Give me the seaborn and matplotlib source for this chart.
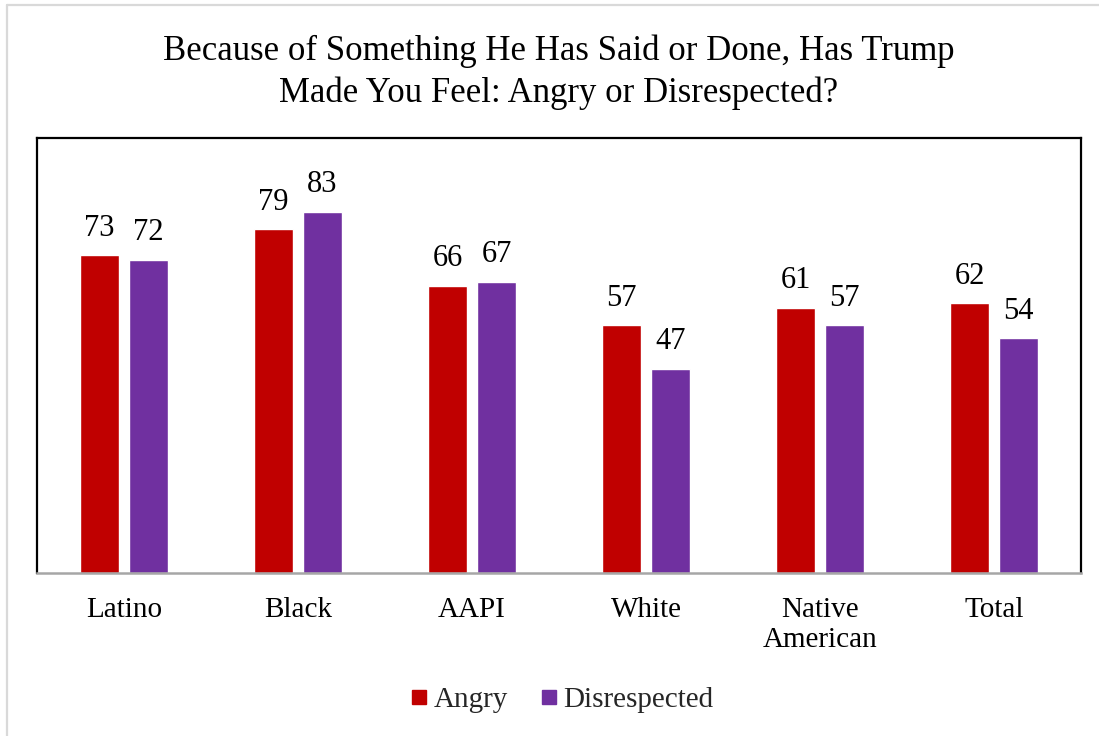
import matplotlib
matplotlib.use("Agg")
import matplotlib.pyplot as plt
import seaborn as sns
import pandas as pd
from matplotlib.lines import Line2D

categories = ["Latino", "Black", "AAPI", "White", "Native\nAmerican", "Total"]
angry = [73, 79, 66, 57, 61, 62]
disrespected = [72, 83, 67, 47, 57, 54]
series_names = ["Angry", "Disrespected"]
colors = ["#C00000", "#7030A0"]
title = "Because of Something He Has Said or Done, Has Trump\nMade You Feel: Angry or Disrespected?"

df = pd.DataFrame({
    "Group": categories * 2,
    "Value": angry + disrespected,
    "Series": [series_names[0]] * len(categories) + [series_names[1]] * len(categories),
})

sns.set_theme(style="white")
plt.rcParams["font.family"] = ["Liberation Serif", "DejaVu Serif"]

fig = plt.figure(figsize=(10.99, 7.36), dpi=100)
ax = fig.add_axes([37 / 1099, 1 - 573 / 736, (1081 - 37) / 1099, (573 - 138) / 736])

sns.barplot(data=df, x="Group", y="Value", hue="Series", order=categories,
            hue_order=series_names, palette=colors, width=0.563, gap=0.2,
            saturation=1, legend=False, ax=ax, errorbar=None)

for cont in ax.containers:
    ax.bar_label(cont, fmt="%d", padding=9, fontsize=22, color="black")

ax.set_ylim(0, 100)
ax.set_xlim(-0.5, len(categories) - 0.5)
ax.set_xlabel("")
ax.set_ylabel("")
ax.set_yticks([])
ax.tick_params(axis="x", length=0, pad=17, labelsize=21, colors="black")
for lab in ax.get_xticklabels():
    lab.set_linespacing(1.24)

for s in ["left", "top", "right"]:
    ax.spines[s].set_color("black")
    ax.spines[s].set_linewidth(1.6)
ax.spines["bottom"].set_color("#A6A6A6")
ax.spines["bottom"].set_linewidth(1.8)

fig.text(559 / 1099, 1 - 72 / 736, title, ha="center", va="center",
         fontsize=25, color="black", linespacing=1.33)

handles = [Line2D([0], [0], marker="s", linestyle="none", markersize=10.5,
                  markerfacecolor=c, markeredgecolor=c) for c in colors]
fig.legend(handles, series_names, loc="center", bbox_to_anchor=(559 / 1099, 1 - 700 / 736),
           ncol=2, frameon=False, fontsize=21, handletextpad=0.0, columnspacing=0.9,
           handlelength=1.0)

# outer light-gray frame (cropped screenshot edge)
fig.add_artist(Line2D([7 / 1099, 7 / 1099], [0, 1 - 5 / 736], transform=fig.transFigure,
                      color="#D9D9D9", linewidth=1.6))
fig.add_artist(Line2D([7 / 1099, 1], [1 - 5 / 736, 1 - 5 / 736], transform=fig.transFigure,
                      color="#D9D9D9", linewidth=1.6))

fig.savefig("out.png", dpi=100)
